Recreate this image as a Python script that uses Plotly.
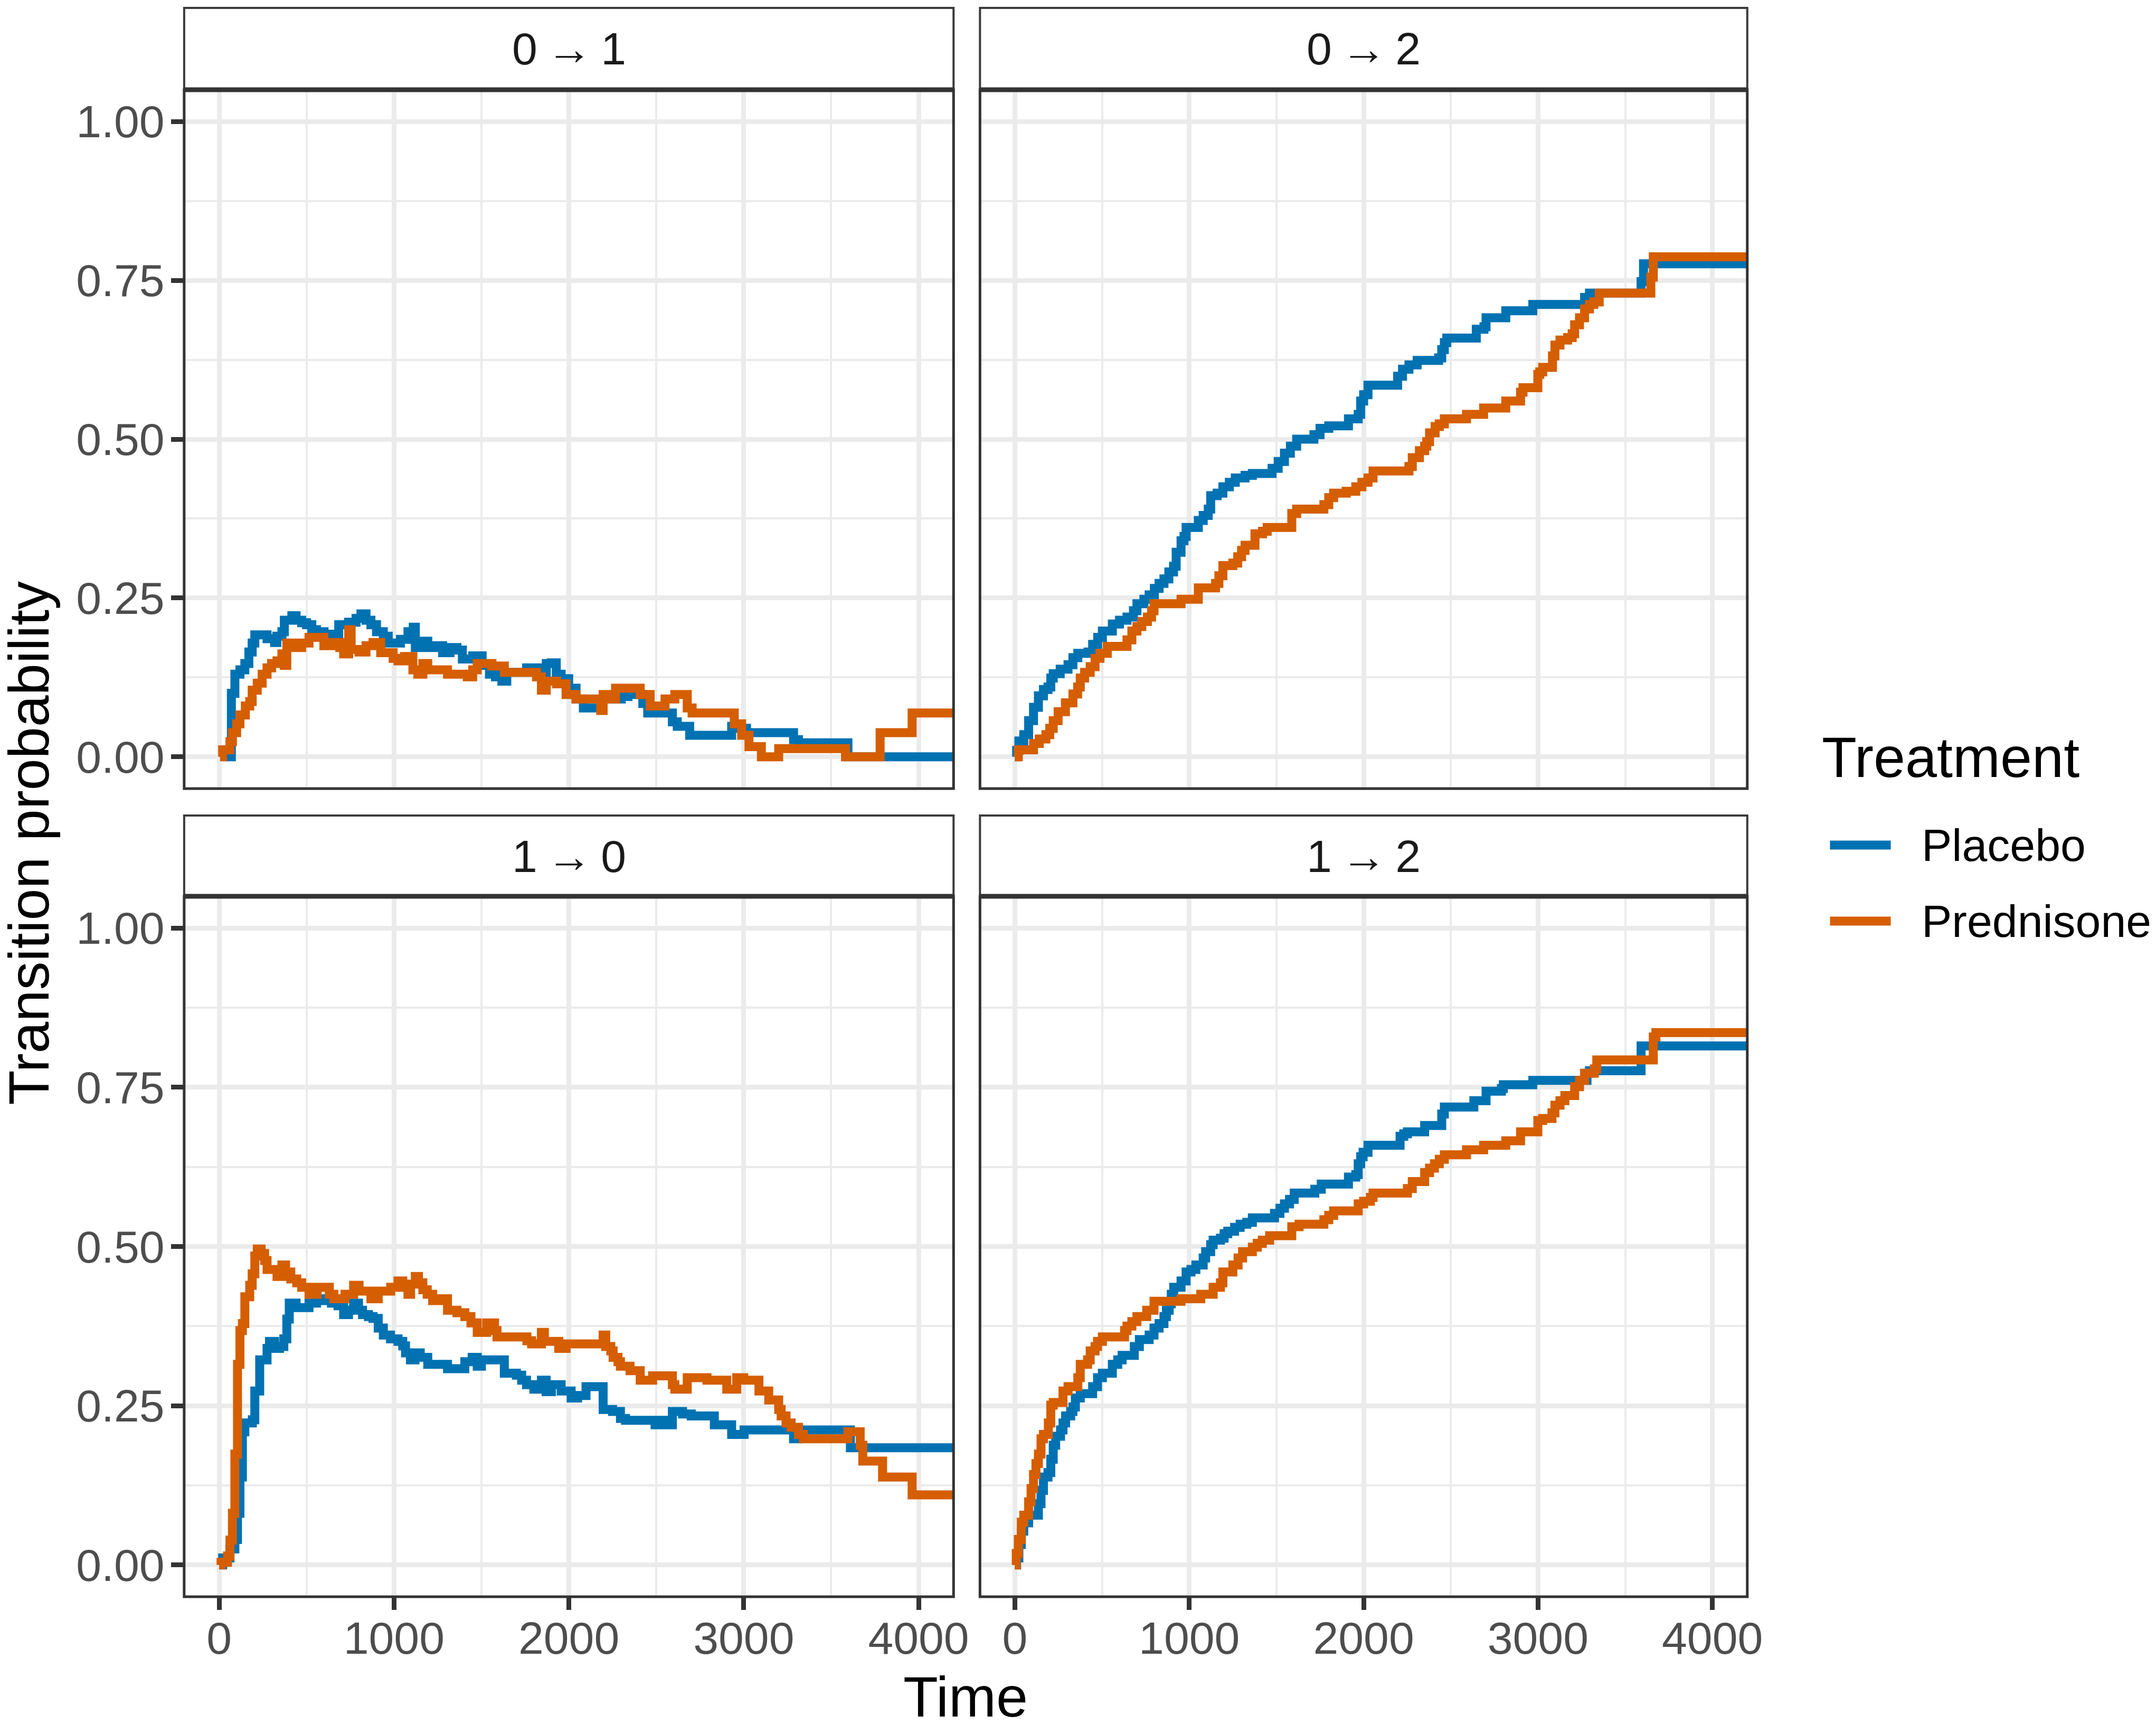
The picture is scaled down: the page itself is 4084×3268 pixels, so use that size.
import plotly.graph_objects as go

W, H = 4084, 3268
W_EFF = 4051          # horizontal extent the paper is actually drawn at
FONT = "Liberation Sans"

transitions = ["0 → 1", "0 → 2", "1 → 0", "1 → 2"]
strip_labels = ["0\u2009→\u20091", "0\u2009→\u20092", "1\u2009→\u20090", "1\u2009→\u20092"]
treatments = ["Placebo", "Prednisone"]
colors = {"Placebo": "#0072B2", "Prednisone": "#D55E00"}

x_ticks = [0, 1000, 2000, 3000, 4000]
x_ticktext = ["0", "1000", "2000", "3000", "4000"]
y_ticks = [0, 0.25, 0.5, 0.75, 1.0]
y_ticktext = ["0.00", "0.25", "0.50", "0.75", "1.00"]

# ---- 0 -> 1 ----
t01_placebo = [20, 62, 70, 90, 119, 147, 170, 189, 204, 274,
               317, 330, 359, 373, 416, 440, 472, 500, 530, 557,
               600, 684, 740, 783, 811, 840, 868, 900, 939, 967,
               1037, 1080, 1110, 1122, 1150, 1193, 1240, 1278, 1320, 1360,
               1391, 1450, 1504, 1546, 1580, 1617, 1645, 1758, 1843, 1871,
               1900, 1928, 1956, 1999, 2041, 2083, 2196, 2250, 2300, 2338,
               2423, 2451, 2592, 2620, 2691, 2931, 2970, 3016, 3285, 3313,
               3596, 4400]
p01_placebo = [0.000, 0.000, 0.100, 0.130, 0.137, 0.147, 0.165, 0.179, 0.192, 0.186,
               0.180, 0.190, 0.197, 0.215, 0.222, 0.215, 0.211, 0.208, 0.200, 0.197,
               0.193, 0.208, 0.212, 0.218, 0.225, 0.215, 0.208, 0.197, 0.190, 0.179,
               0.185, 0.197, 0.204, 0.172, 0.182, 0.172, 0.175, 0.164, 0.172, 0.168,
               0.154, 0.159, 0.144, 0.130, 0.126, 0.119, 0.133, 0.140, 0.130, 0.147,
               0.148, 0.130, 0.123, 0.108, 0.091, 0.077, 0.094, 0.091, 0.095, 0.098,
               0.084, 0.069, 0.055, 0.048, 0.034, 0.048, 0.045, 0.038, 0.027, 0.022,
               0.000, 0.000]
t01_prednisone = [5, 20, 62, 76, 100, 119, 150, 175, 189, 218,
                  246, 274, 300, 331, 359, 373, 387, 430, 472, 514,
                  599, 650, 690, 712, 741, 755, 800, 840, 880, 924,
                  995, 1023, 1060, 1108, 1136, 1165, 1193, 1306, 1419, 1450,
                  1476, 1560, 1631, 1815, 1843, 1871, 1930, 1984, 2041, 2182,
                  2196, 2230, 2267, 2408, 2465, 2550, 2606, 2677, 2705, 2946,
                  2988, 3030, 3101, 3200, 3582, 3780, 3963, 4400]
p01_prednisone = [0.000, 0.011, 0.024, 0.038, 0.052, 0.066, 0.080, 0.087, 0.105, 0.116,
                  0.130, 0.140, 0.147, 0.151, 0.162, 0.144, 0.179, 0.172, 0.179, 0.188,
                  0.175, 0.180, 0.172, 0.162, 0.200, 0.169, 0.165, 0.175, 0.180, 0.164,
                  0.155, 0.151, 0.158, 0.137, 0.130, 0.147, 0.137, 0.130, 0.126, 0.137,
                  0.147, 0.143, 0.133, 0.126, 0.105, 0.119, 0.115, 0.098, 0.091, 0.073,
                  0.098, 0.091, 0.108, 0.098, 0.080, 0.091, 0.098, 0.077, 0.069, 0.052,
                  0.034, 0.016, 0.000, 0.013, 0.000, 0.038, 0.069, 0.069]

# ---- 0 -> 2 ----
t02_placebo = [0, 10, 23, 51, 79, 107, 135, 164, 190, 206,
               220, 260, 305, 333, 361, 420, 446, 475, 502, 559,
               600, 643, 680, 700, 740, 770, 800, 827, 855, 883,
               910, 925, 953, 970, 982, 1052, 1080, 1109, 1123, 1160,
               1193, 1230, 1264, 1320, 1362, 1475, 1510, 1546, 1580, 1616,
               1715, 1750, 1800, 1913, 1969, 1983, 2000, 2025, 2195, 2223,
               2260, 2307, 2430, 2448, 2463, 2477, 2646, 2690, 2702, 2815,
               2970, 3267, 3295, 3591, 3605, 4400]
p02_placebo = [0.000, 0.010, 0.025, 0.035, 0.057, 0.078, 0.096, 0.106, 0.110, 0.124,
               0.131, 0.138, 0.145, 0.156, 0.163, 0.165, 0.177, 0.188, 0.198, 0.209,
               0.215, 0.220, 0.230, 0.241, 0.248, 0.255, 0.265, 0.273, 0.280, 0.291,
               0.300, 0.322, 0.340, 0.347, 0.361, 0.372, 0.380, 0.390, 0.411, 0.415,
               0.425, 0.432, 0.439, 0.443, 0.446, 0.454, 0.465, 0.478, 0.489, 0.500,
               0.507, 0.517, 0.521, 0.532, 0.539, 0.560, 0.570, 0.585, 0.599, 0.610,
               0.617, 0.624, 0.628, 0.641, 0.652, 0.659, 0.673, 0.677, 0.691, 0.702,
               0.712, 0.723, 0.730, 0.748, 0.776, 0.776]
t02_prednisone = [0, 20, 107, 140, 178, 200, 220, 248, 290, 333,
                  360, 375, 400, 432, 460, 488, 530, 643, 671, 700,
                  728, 760, 784, 798, 953, 1052, 1151, 1170, 1193, 1250,
                  1278, 1300, 1320, 1377, 1420, 1447, 1588, 1616, 1772, 1800,
                  1828, 1900, 1955, 1990, 2025, 2054, 2260, 2279, 2320, 2350,
                  2362, 2378, 2410, 2434, 2463, 2590, 2688, 2815, 2900, 2914,
                  2999, 3010, 3027, 3083, 3097, 3126, 3170, 3196, 3210, 3238,
                  3267, 3295, 3320, 3351, 3647, 3661, 4400]
p02_prednisone = [0.000, 0.011, 0.021, 0.028, 0.035, 0.045, 0.057, 0.071, 0.085, 0.099,
                  0.110, 0.124, 0.133, 0.142, 0.155, 0.163, 0.174, 0.184, 0.198, 0.205,
                  0.213, 0.220, 0.230, 0.241, 0.248, 0.266, 0.273, 0.285, 0.301, 0.305,
                  0.315, 0.325, 0.333, 0.351, 0.355, 0.361, 0.383, 0.390, 0.397, 0.408,
                  0.415, 0.418, 0.425, 0.432, 0.439, 0.450, 0.457, 0.471, 0.482, 0.489,
                  0.496, 0.510, 0.520, 0.524, 0.532, 0.539, 0.549, 0.560, 0.574, 0.581,
                  0.602, 0.606, 0.613, 0.631, 0.648, 0.656, 0.660, 0.666, 0.680, 0.691,
                  0.705, 0.712, 0.716, 0.730, 0.755, 0.787, 0.787]

# ---- 1 -> 0 ----
t10_placebo = [0, 20, 62, 90, 105, 119, 133, 147, 190, 204,
               232, 274, 288, 317, 345, 370, 387, 401, 440, 472,
               514, 557, 600, 642, 680, 712, 740, 769, 797, 820,
               854, 880, 910, 939, 980, 1023, 1050, 1066, 1094, 1120,
               1150, 1193, 1306, 1405, 1447, 1476, 1500, 1631, 1700, 1730,
               1758, 1800, 1843, 1870, 1900, 1956, 2013, 2050, 2098, 2196,
               2250, 2295, 2324, 2493, 2530, 2560, 2592, 2650, 2700, 2832,
               2931, 3002, 3285, 3313, 3610, 4400]
p10_placebo = [0.000, 0.011, 0.025, 0.040, 0.081, 0.138, 0.209, 0.223, 0.228, 0.273,
               0.322, 0.340, 0.351, 0.340, 0.343, 0.355, 0.386, 0.411, 0.404, 0.404,
               0.411, 0.418, 0.415, 0.411, 0.407, 0.393, 0.400, 0.411, 0.400, 0.393,
               0.390, 0.387, 0.372, 0.361, 0.355, 0.351, 0.344, 0.333, 0.322, 0.333,
               0.326, 0.315, 0.308, 0.319, 0.326, 0.312, 0.322, 0.301, 0.298, 0.290,
               0.283, 0.276, 0.290, 0.272, 0.283, 0.273, 0.262, 0.266, 0.280, 0.244,
               0.241, 0.230, 0.227, 0.220, 0.227, 0.220, 0.241, 0.237, 0.234, 0.220,
               0.205, 0.212, 0.198, 0.212, 0.184, 0.184]
t10_prednisone = [0, 11, 48, 62, 76, 90, 105, 119, 133, 147,
                  175, 189, 204, 218, 240, 260, 274, 331, 359, 380,
                  410, 444, 472, 514, 560, 599, 630, 656, 720, 769,
                  800, 868, 910, 981, 1023, 1050, 1080, 1095, 1122, 1140,
                  1165, 1190, 1221, 1260, 1306, 1360, 1405, 1440, 1476, 1530,
                  1575, 1589, 1760, 1787, 1843, 1860, 1942, 1984, 2196, 2211,
                  2240, 2253, 2281, 2295, 2350, 2408, 2479, 2592, 2606, 2677,
                  2790, 2903, 2960, 3000, 3087, 3143, 3200, 3214, 3242, 3271,
                  3313, 3341, 3596, 3666, 3681, 3794, 3963, 4400]
p10_prednisone = [0.000, 0.004, 0.014, 0.039, 0.081, 0.174, 0.315, 0.368, 0.379, 0.421,
                  0.439, 0.457, 0.485, 0.496, 0.489, 0.478, 0.464, 0.453, 0.471, 0.460,
                  0.449, 0.443, 0.436, 0.425, 0.436, 0.436, 0.425, 0.418, 0.425, 0.439,
                  0.430, 0.418, 0.430, 0.436, 0.446, 0.436, 0.425, 0.441, 0.453, 0.443,
                  0.432, 0.425, 0.415, 0.418, 0.400, 0.396, 0.390, 0.380, 0.365, 0.380,
                  0.368, 0.358, 0.352, 0.347, 0.365, 0.351, 0.340, 0.347, 0.361, 0.343,
                  0.336, 0.326, 0.319, 0.312, 0.305, 0.290, 0.297, 0.283, 0.276, 0.294,
                  0.290, 0.276, 0.294, 0.290, 0.273, 0.259, 0.244, 0.234, 0.223, 0.216,
                  0.205, 0.198, 0.209, 0.188, 0.163, 0.138, 0.110, 0.110]

# ---- 1 -> 2 ----
t12_placebo = [0, 10, 23, 37, 51, 79, 135, 150, 164, 190,
               206, 220, 234, 262, 276, 291, 320, 333, 347, 375,
               446, 474, 502, 559, 590, 615, 685, 714, 770, 798,
               827, 855, 869, 885, 897, 911, 953, 982, 1010, 1038,
               1080, 1094, 1123, 1137, 1179, 1200, 1221, 1260, 1292, 1330,
               1362, 1489, 1520, 1546, 1575, 1602, 1720, 1757, 1913, 1955,
               1969, 1983, 1997, 2025, 2209, 2230, 2251, 2350, 2448, 2463,
               2632, 2702, 2790, 2801, 2970, 3281, 3295, 3591, 4400]
p12_placebo = [0.000, 0.011, 0.032, 0.053, 0.066, 0.078, 0.096, 0.117, 0.138, 0.145,
               0.166, 0.188, 0.202, 0.212, 0.223, 0.234, 0.241, 0.248, 0.262, 0.269,
               0.280, 0.294, 0.301, 0.315, 0.322, 0.329, 0.343, 0.354, 0.361, 0.372,
               0.379, 0.390, 0.400, 0.410, 0.425, 0.436, 0.446, 0.460, 0.464, 0.471,
               0.482, 0.492, 0.503, 0.510, 0.513, 0.520, 0.524, 0.530, 0.535, 0.538,
               0.545, 0.552, 0.560, 0.567, 0.574, 0.584, 0.590, 0.598, 0.609, 0.613,
               0.630, 0.641, 0.648, 0.659, 0.673, 0.677, 0.680, 0.690, 0.708, 0.719,
               0.729, 0.744, 0.748, 0.754, 0.761, 0.772, 0.776, 0.815, 0.815]
t12_prednisone = [0, 8, 20, 37, 51, 79, 93, 107, 121, 135,
                  150, 164, 192, 206, 220, 276, 305, 361, 375, 417,
                  432, 460, 474, 502, 629, 643, 671, 700, 756, 798,
                  953, 1066, 1137, 1179, 1193, 1250, 1280, 1306, 1362, 1390,
                  1419, 1461, 1588, 1630, 1772, 1800, 1828, 1969, 2000, 2039,
                  2054, 2251, 2279, 2350, 2378, 2406, 2434, 2463, 2590, 2688,
                  2815, 2900, 2999, 3027, 3080, 3097, 3126, 3154, 3210, 3238,
                  3267, 3323, 3337, 3661, 3676, 4400]
p12_prednisone = [0.000, 0.018, 0.040, 0.067, 0.078, 0.099, 0.120, 0.142, 0.159, 0.174,
                  0.198, 0.205, 0.223, 0.251, 0.255, 0.273, 0.280, 0.294, 0.315, 0.322,
                  0.336, 0.343, 0.351, 0.358, 0.368, 0.375, 0.382, 0.390, 0.400, 0.414,
                  0.418, 0.425, 0.436, 0.443, 0.460, 0.471, 0.482, 0.492, 0.499, 0.505,
                  0.510, 0.517, 0.531, 0.535, 0.542, 0.549, 0.556, 0.567, 0.571, 0.577,
                  0.584, 0.591, 0.602, 0.616, 0.623, 0.630, 0.637, 0.644, 0.652, 0.659,
                  0.666, 0.680, 0.698, 0.701, 0.710, 0.722, 0.729, 0.737, 0.751, 0.761,
                  0.772, 0.779, 0.793, 0.829, 0.836, 0.836]

series = {
    "0 → 1": {"Placebo": (t01_placebo, p01_placebo), "Prednisone": (t01_prednisone, p01_prednisone)},
    "0 → 2": {"Placebo": (t02_placebo, p02_placebo), "Prednisone": (t02_prednisone, p02_prednisone)},
    "1 → 0": {"Placebo": (t10_placebo, p10_placebo), "Prednisone": (t10_prednisone, p10_prednisone)},
    "1 → 2": {"Placebo": (t12_placebo, p12_placebo), "Prednisone": (t12_prednisone, p12_prednisone)},
}

# ---- layout geometry (target pixels -> paper fractions) ----
col_px = [(348.5, 1804.5), (1854.5, 3306.5)]
row_px = [(170, 1494), (1698, 3025)]      # panel top, bottom (from top)
strip_px = [(15, 170), (1545, 1698)]


def px_x(v):
    return v / W_EFF


def px_y(v):
    return 1 - v / H


GRID = "#EBEBEB"
DARK = "#333333"

fig = go.Figure()
layout = dict(
    width=W, height=H,
    margin=dict(l=0, r=0, t=0, b=0),
    paper_bgcolor="white", plot_bgcolor="white",
    showlegend=False,
    font=dict(family=FONT, color="black"),
)

shapes = []
annotations = []

for i, tr in enumerate(transitions):
    r, c = divmod(i, 2)
    suffix = "" if i == 0 else str(i + 1)
    xa, ya = "xaxis" + suffix, "yaxis" + suffix
    bottom = (r == 1)
    left = (c == 0)
    layout[xa] = dict(
        domain=[px_x(col_px[c][0]), px_x(col_px[c][1])],
        anchor="y" + suffix,
        range=[-200, 4200],
        tickvals=x_ticks, ticktext=x_ticktext,
        showticklabels=bottom,
        ticks="outside" if bottom else "",
        ticklen=24, tickwidth=9, tickcolor=DARK,
        ticklabelstandoff=-20,
        tickfont=dict(family=FONT, size=86, color="#4D4D4D"),
        showgrid=True, gridcolor=GRID, gridwidth=8.5,
        minor=dict(tickvals=[500, 1500, 2500, 3500], showgrid=True,
                   gridcolor=GRID, gridwidth=4.2, ticks=""),
        zeroline=False, showline=False,
    )
    layout[ya] = dict(
        domain=[px_y(row_px[r][1]), px_y(row_px[r][0])],
        anchor="x" + suffix,
        range=[-0.05, 1.05],
        tickvals=y_ticks, ticktext=y_ticktext,
        showticklabels=left,
        ticks="outside" if left else "",
        ticklen=24, tickwidth=9, tickcolor=DARK,
        ticklabelstandoff=-5,
        tickfont=dict(family=FONT, size=86, color="#4D4D4D"),
        showgrid=True, gridcolor=GRID, gridwidth=8.5,
        minor=dict(tickvals=[0.125, 0.375, 0.625, 0.875], showgrid=True,
                   gridcolor=GRID, gridwidth=4.2, ticks=""),
        zeroline=False, showline=False,
    )

    for trt in treatments:
        t, p = series[tr][trt]
        fig.add_trace(go.Scatter(
            x=t, y=p, mode="lines", name=trt,
            line=dict(color=colors[trt], width=17, shape="hv"),
            xaxis="x" + suffix, yaxis="y" + suffix,
            showlegend=False, hoverinfo="skip",
        ))

    x0, x1 = px_x(col_px[c][0]), px_x(col_px[c][1])
    # panel border
    shapes.append(dict(type="rect", xref="paper", yref="paper",
                       x0=x0, x1=x1, y0=px_y(row_px[r][1]), y1=px_y(row_px[r][0]),
                       line=dict(color=DARK, width=5), fillcolor="rgba(0,0,0,0)", layer="above"))
    # strip
    shapes.append(dict(type="rect", xref="paper", yref="paper",
                       x0=x0, x1=x1, y0=px_y(strip_px[r][1]), y1=px_y(strip_px[r][0]),
                       line=dict(color="#3A3A3A", width=4), fillcolor="white", layer="above"))
    # thick line between strip and panel
    shapes.append(dict(type="line", xref="paper", yref="paper",
                       x0=x0, x1=x1, y0=px_y(row_px[r][0]), y1=px_y(row_px[r][0]),
                       line=dict(color=DARK, width=9), layer="above"))
    annotations.append(dict(
        text=strip_labels[i], xref="paper", yref="paper", showarrow=False,
        x=(x0 + x1) / 2, y=px_y((strip_px[r][0] + strip_px[r][1]) / 2),
        xanchor="center", yanchor="middle",
        font=dict(family=FONT, size=86, color="#1A1A1A"),
    ))

# axis titles
annotations.append(dict(text="Time", xref="paper", yref="paper", showarrow=False,
                        x=px_x((col_px[0][0] + col_px[1][1]) / 2), y=px_y(3214),
                        xanchor="center", yanchor="middle", height=100,
                        font=dict(family=FONT, size=108, color="black")))
annotations.append(dict(text="Transition probability", xref="paper", yref="paper",
                        showarrow=False, textangle=-90,
                        x=px_x(54), y=px_y((row_px[0][0] + row_px[1][1]) / 2),
                        xanchor="center", yanchor="middle",
                        font=dict(family=FONT, size=108, color="black")))

# legend (drawn manually)
annotations.append(dict(text="Treatment", xref="paper", yref="paper", showarrow=False,
                        x=px_x(3446), y=px_y(1435), xanchor="left", yanchor="middle",
                        font=dict(family=FONT, size=108, color="black")))
legend_y = {"Placebo": 1601, "Prednisone": 1745}
for trt in treatments:
    yy = px_y(legend_y[trt])
    shapes.append(dict(type="line", xref="paper", yref="paper",
                       x0=px_x(3463), x1=px_x(3578), y0=yy, y1=yy,
                       line=dict(color=colors[trt], width=17)))
    annotations.append(dict(text=trt, xref="paper", yref="paper", showarrow=False,
                            x=px_x(3634), y=yy, xanchor="left", yanchor="middle",
                            font=dict(family=FONT, size=86, color="black")))

layout["shapes"] = shapes
layout["annotations"] = annotations
fig.update_layout(**layout)
fig.write_html("out.html")
